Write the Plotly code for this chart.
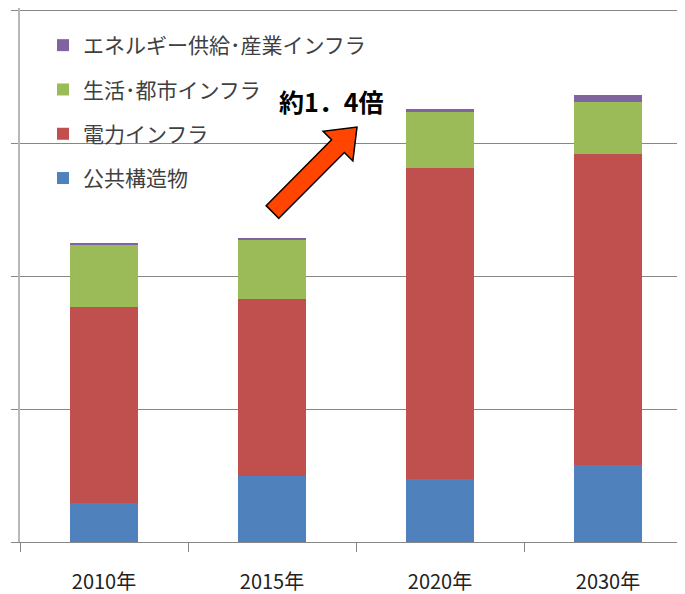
import math
import plotly.graph_objects as go

# ---- data ----
years = ["2010年", "2015年", "2020年", "2030年"]
series_names = ["公共構造物", "電力インフラ", "生活･都市インフラ", "エネルギー供給･産業インフラ"]
public_structures = [2.9, 5.0, 4.7, 5.8]
power_infra = [14.8, 13.3, 23.4, 23.4]
urban_infra = [4.7, 4.45, 4.2, 3.85]
energy_industry = [0.1, 0.13, 0.26, 0.53]
series_values = [public_structures, power_infra, urban_infra, energy_industry]
colors = ["#4F81BD", "#C0504D", "#9BBB59", "#8064A2"]
y_tick_values = [0, 10, 20, 30, 40]
y_max = 40.15
annotation_text = "約1．4倍"

# page body has an 8px margin; place the figure so the plot area lands where wanted
OFF = 8
W, H = 685 - OFF, 594 - OFF
PLOT_L, PLOT_T, PLOT_B, PLOT_R = 20, 8, 542, 685   # page pixels
ML, MT, MR = PLOT_L - OFF, PLOT_T - OFF, 0
MB = (OFF + H) - PLOT_B
PW, PH = PLOT_R - PLOT_L, PLOT_B - PLOT_T

fig = go.Figure()
for i, (name, vals, col) in enumerate(zip(series_names, series_values, colors)):
    fig.add_trace(go.Bar(
        x=years, y=vals, name=name, marker=dict(color=col, line=dict(width=0)),
        legendgroup=f"g{i}", legendrank=100 - i,
    ))

def px2paper(px, py):
    return (px - PLOT_L) / PW, (PLOT_B - py) / PH

# white backing behind the legend (covers the gridline like the original legend box)
x0, y0 = px2paper(24, 200)
x1, y1 = px2paper(397, 22)
fig.add_shape(type="rect", xref="paper", yref="paper", x0=x0, y0=y0, x1=x1, y1=y1,
              fillcolor="white", line=dict(width=0), layer="between")

# block arrow (decoration), defined in page pixels and converted to paper coords
tail = (272.5, 212.0)
tip = (357.0, 127.0)
dx, dy = tip[0] - tail[0], tip[1] - tail[1]
ln = math.hypot(dx, dy)
ux, uy = dx / ln, dy / ln
nx, ny = -uy, ux
w_shaft, w_head, head_len = 9.0, 21.0, 27.0
bx, by = tip[0] - ux * head_len, tip[1] - uy * head_len
pts = [
    (tail[0] + nx * w_shaft, tail[1] + ny * w_shaft),
    (bx + nx * w_shaft, by + ny * w_shaft),
    (bx + nx * w_head, by + ny * w_head),
    tip,
    (bx - nx * w_head, by - ny * w_head),
    (bx - nx * w_shaft, by - ny * w_shaft),
    (tail[0] - nx * w_shaft, tail[1] - ny * w_shaft),
]
ppts = [px2paper(*p) for p in pts]
path = "M " + " L ".join(f"{x:.5f},{y:.5f}" for x, y in ppts) + " Z"
fig.add_shape(type="path", path=path, xref="paper", yref="paper",
              fillcolor="#FF4500", line=dict(color="#000000", width=1.5), layer="above")

ax, ay = px2paper(331, 101)
fig.add_annotation(x=ax, y=ay, xref="paper", yref="paper", text=f"<b>{annotation_text}</b>",
                   showarrow=False, font=dict(family="Noto Sans CJK JP", size=25, color="#000000"),
                   xanchor="center", yanchor="middle")

lx, ly = px2paper(43, 25)
fig.update_layout(
    width=W, height=H,
    margin=dict(l=ML, r=MR, t=MT, b=MB),
    paper_bgcolor="white", plot_bgcolor="white",
    barmode="stack", bargap=0.595,
    font=dict(family="Noto Sans CJK JP", color="#404040"),
    legend=dict(
        x=lx, y=ly, xanchor="left", yanchor="top",
        traceorder="grouped", tracegroupgap=14,
        font=dict(family="Noto Sans CJK JP", size=21, color="#404040"),
        bgcolor="rgba(0,0,0,0)",
    ),
    xaxis=dict(
        type="category", range=[-0.5, -0.5 + PW / 168.0],
        tickson="boundaries", ticks="outside", ticklen=9, tickcolor="#868686",
        showline=True, linecolor="#868686", linewidth=1,
        showgrid=False, ticklabelstandoff=22,
        tickfont=dict(family="Liberation Sans Narrow, Noto Sans CJK JP", size=20, color="#222222"),
    ),
    yaxis=dict(
        range=[0, y_max], tickvals=y_tick_values, showticklabels=False,
        ticks="outside", ticklen=7, tickcolor="#868686",
        showgrid=True, gridcolor="#868686", gridwidth=1,
        zeroline=False, showline=True, linecolor="#B8B8B8", linewidth=1.5,
    ),
)

fig.write_html("out.html")
